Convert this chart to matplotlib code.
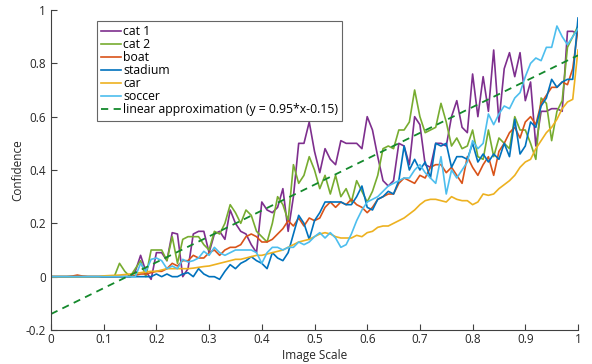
import numpy as np
import matplotlib
matplotlib.use('Agg')
import matplotlib.pyplot as plt

plt.rcParams['font.family'] = ['Open Sans', 'DejaVu Sans']

# image scale 0.00 .. 1.00 in steps of 0.01
scale = np.round(np.arange(0, 101) / 100, 2)

zeros16 = [0.0] * 16

cat1 = zeros16 + [
    0.02, 0.08, 0.02, -0.01, 0.09, 0.09, 0.06, 0.165, 0.16, 0.0,
    0.03, 0.16, 0.17, 0.17, 0.09, 0.16, 0.17, 0.14, 0.25, 0.2,
    0.17, 0.16, 0.12, 0.09, 0.28, 0.25, 0.24, 0.26, 0.33, 0.17,
    0.3, 0.5, 0.5, 0.58, 0.47, 0.39, 0.48, 0.44, 0.42, 0.51,
    0.5, 0.5, 0.5, 0.48, 0.6, 0.55, 0.45, 0.36, 0.34, 0.36,
    0.5, 0.49, 0.42, 0.6, 0.57, 0.42, 0.41, 0.5, 0.5, 0.49,
    0.6, 0.66, 0.56, 0.54, 0.76, 0.6, 0.75, 0.62, 0.85, 0.58,
    0.78, 0.84, 0.75, 0.84, 0.66, 0.73, 0.49, 0.62, 0.62, 0.63,
    0.63, 0.62, 0.92, 0.92, 0.91]

cat2 = [0.0] * 13 + [
    0.05, 0.02, 0.0, 0.03, 0.06, 0.0, 0.1, 0.1, 0.1, 0.06,
    0.15, 0.05, 0.14, 0.15, 0.15, 0.15, 0.12, 0.1, 0.17, 0.16,
    0.2, 0.27, 0.24, 0.2, 0.25, 0.23, 0.17, 0.15, 0.13, 0.2,
    0.3, 0.27, 0.21, 0.42, 0.35, 0.38, 0.45, 0.4, 0.33, 0.38,
    0.31, 0.38, 0.3, 0.33, 0.28, 0.36, 0.32, 0.28, 0.32, 0.38,
    0.48, 0.49, 0.48, 0.55, 0.55, 0.58, 0.7, 0.6, 0.54, 0.55,
    0.56, 0.65, 0.58, 0.49, 0.52, 0.48, 0.49, 0.55, 0.45, 0.44,
    0.55, 0.45, 0.52, 0.5, 0.48, 0.6, 0.55, 0.55, 0.5, 0.44,
    0.67, 0.65, 0.51, 0.62, 0.66, 0.86, 0.9, 0.94]

boat = [0.0, 0.0, 0.0, 0.0, 0.002, 0.006, 0.002, 0.0, 0.0, 0.0,
        0.0, 0.0, 0.0, 0.0, 0.0, 0.0,
        0.005, 0.01, 0.01, 0.015, 0.02, 0.02, 0.03, 0.05, 0.04, 0.06,
        0.06, 0.08, 0.07, 0.07, 0.09, 0.1, 0.08, 0.1, 0.11, 0.11,
        0.12, 0.15, 0.16, 0.15, 0.13, 0.13, 0.14, 0.16, 0.18, 0.21,
        0.19, 0.22, 0.19, 0.22, 0.21, 0.22, 0.26, 0.28, 0.26, 0.28,
        0.27, 0.29, 0.27, 0.26, 0.24, 0.26, 0.29, 0.3, 0.31, 0.31,
        0.35, 0.37, 0.36, 0.35, 0.38, 0.37, 0.41, 0.42, 0.42, 0.39,
        0.41, 0.38, 0.35, 0.45, 0.41, 0.38, 0.42, 0.45, 0.38, 0.47,
        0.5, 0.54, 0.56, 0.52, 0.58, 0.6, 0.57, 0.65, 0.68, 0.71,
        0.71, 0.73, 0.72, 0.78, 0.93]

stadium = [0.0] * 20 + [
    0.01, 0.0, 0.01, 0.0, 0.0, 0.01, 0.015, 0.0, 0.03, 0.01,
    0.0, 0.0, -0.01, 0.02, 0.045, 0.03, 0.05, 0.06, 0.075, 0.06,
    0.05, 0.03, 0.09, 0.07, 0.06, 0.09, 0.16, 0.23, 0.2, 0.14,
    0.21, 0.24, 0.28, 0.28, 0.28, 0.28, 0.27, 0.27, 0.3, 0.34,
    0.26, 0.25, 0.29, 0.3, 0.32, 0.31, 0.36, 0.49, 0.4, 0.44,
    0.4, 0.43, 0.37, 0.5, 0.49, 0.5, 0.41, 0.45, 0.45, 0.44,
    0.5, 0.43, 0.46, 0.43, 0.46, 0.44, 0.5, 0.45, 0.59, 0.46,
    0.49, 0.58, 0.56, 0.64, 0.67, 0.74, 0.71, 0.73, 0.74, 0.74,
    0.97]

car = [0.0] * 10 + [
    0.003, 0.004, 0.005, 0.006, 0.008, 0.01, 0.012, 0.015, 0.018, 0.02,
    0.02, 0.025, 0.03, 0.03, 0.03, 0.03, 0.03, 0.032, 0.035, 0.038,
    0.04, 0.045, 0.05, 0.055, 0.06, 0.065, 0.065, 0.07, 0.075, 0.08,
    0.08, 0.085, 0.09, 0.095, 0.1, 0.11, 0.12, 0.13, 0.135, 0.14,
    0.15, 0.16, 0.165, 0.16, 0.15, 0.145, 0.145, 0.145, 0.155, 0.15,
    0.165, 0.17, 0.185, 0.19, 0.19, 0.2, 0.21, 0.22, 0.235, 0.25,
    0.27, 0.285, 0.29, 0.29, 0.285, 0.28, 0.3, 0.29, 0.285, 0.285,
    0.27, 0.28, 0.31, 0.305, 0.31, 0.33, 0.345, 0.36, 0.38, 0.41,
    0.43, 0.44, 0.48, 0.51, 0.54, 0.56, 0.59, 0.63, 0.655, 0.665,
    0.85]

soccer = zeros16 + [
    0.0, 0.05, 0.02, 0.065, 0.07, 0.06, 0.03, 0.04, 0.03, 0.065,
    0.055, 0.06, 0.07, 0.095, 0.08, 0.11, 0.09, 0.08, 0.09, 0.1,
    0.1, 0.1, 0.1, 0.09, 0.05, 0.09, 0.11, 0.11, 0.1, 0.11,
    0.11, 0.13, 0.12, 0.13, 0.15, 0.165, 0.145, 0.165, 0.145, 0.11,
    0.12, 0.16, 0.21, 0.25, 0.28, 0.29, 0.3, 0.32, 0.34, 0.35,
    0.36, 0.37, 0.37, 0.4, 0.42, 0.39, 0.37, 0.35, 0.45, 0.31,
    0.4, 0.37, 0.4, 0.43, 0.51, 0.48, 0.5, 0.61, 0.57, 0.61,
    0.64, 0.63, 0.67, 0.69, 0.75, 0.8, 0.82, 0.81, 0.86, 0.86,
    0.94, 0.9, 0.87, 0.9, 0.93]

# dashed fit line, end points
lin_x = [0.0, 1.0]
lin_y = [-0.14, 0.83]

series = [
    ('cat 1', cat1, '#7E2F8E'),
    ('cat 2', cat2, '#77AC30'),
    ('boat', boat, '#D95319'),
    ('stadium', stadium, '#0072BD'),
    ('car', car, '#EDB120'),
    ('soccer', soccer, '#4DBEEE'),
]

fig = plt.figure(figsize=(5.92, 3.64), dpi=100)
ax = fig.add_axes([51 / 592, 34 / 364, 527 / 592, 320 / 364])

for name, vals, col in series:
    ax.plot(scale, vals, color=col, lw=1.2, label=name)
ax.plot(lin_x, lin_y, '--', color='#14892C', lw=1.3, dashes=(4, 3),
        label='linear approximation (y = 0.95*x-0.15)')

ax.set_xlim(0, 1)
ax.set_ylim(-0.2, 1)
ax.set_xticks(np.round(np.arange(0, 11) / 10, 1))
ax.set_xticklabels(['0', '0.1', '0.2', '0.3', '0.4', '0.5', '0.6', '0.7', '0.8', '0.9', '1'])
ax.set_yticks([-0.2, 0, 0.2, 0.4, 0.6, 0.8, 1])
ax.set_yticklabels(['-0.2', '0', '0.2', '0.4', '0.6', '0.8', '1'])
ax.tick_params(direction='in', length=4, colors='#404040', labelsize=8.5,
               labelcolor='#262626')
ax.tick_params(axis='x', pad=2)
for s in ['top', 'right']:
    ax.spines[s].set_visible(False)
for s in ['left', 'bottom']:
    ax.spines[s].set_color('#404040')
    ax.spines[s].set_linewidth(0.8)

ax.set_xlabel('Image Scale', fontsize=8.5, color='#262626')
ax.set_ylabel('Confidence', fontsize=8.5, color='#262626')
ax.xaxis.set_label_coords(0.5, -0.06)
ax.yaxis.set_label_coords(-0.05, 0.5)

leg = ax.legend(loc='upper left', bbox_to_anchor=(0.087, 0.965), fontsize=8.8,
                frameon=True, fancybox=False, handlelength=1.6, handletextpad=0.2,
                labelspacing=0.0, borderpad=0.35, borderaxespad=0)
leg.get_frame().set_edgecolor('#404040')
leg.get_frame().set_linewidth(0.8)

fig.savefig('out.png', dpi=100)
